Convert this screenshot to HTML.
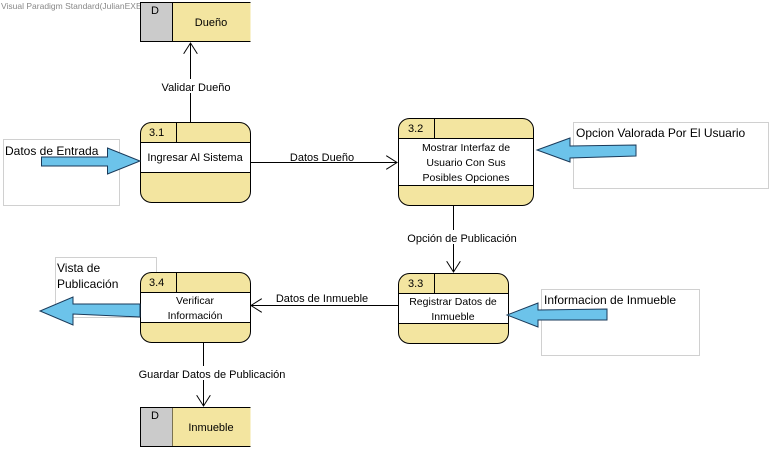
<!DOCTYPE html>
<html><head><meta charset="utf-8"><style>
html,body{margin:0;padding:0;background:#fff;}
svg{display:block;font-family:"Liberation Sans",Arial,sans-serif;}
</style></head><body>
<svg width="772" height="451" viewBox="0 0 772 451" xmlns="http://www.w3.org/2000/svg">
<defs>
<marker id="a" markerWidth="12" markerHeight="14" refX="11" refY="7" orient="auto" markerUnits="userSpaceOnUse">
<path d="M0,0 L11,7 L0,14" fill="none" stroke="#000" stroke-width="1"/>
</marker>
</defs>
<text x="1" y="9" font-size="8.5" fill="#888">Visual Paradigm Standard(JulianEXE(Sena))</text>

<!-- Dueño store -->
<rect x="140.5" y="2.5" width="32" height="39" fill="#cbcbcb" stroke="#000"/>
<rect x="172.5" y="2.5" width="78" height="39" fill="#f3e5a0" stroke="none"/>
<path d="M172.5,2.5 H250.5 M172.5,41.5 H250.5 M172.5,2.5 V41.5" stroke="#000" fill="none"/>
<text x="151" y="14" font-size="11">D</text>
<text x="211" y="26" font-size="11" text-anchor="middle">Dueño</text>

<!-- notes -->
<rect x="3.5" y="139.5" width="116" height="66" fill="#fff" stroke="#d0d0d0"/>
<text x="5" y="155" font-size="12">Datos de Entrada</text>
<rect x="573.5" y="122.5" width="195" height="66" fill="#fff" stroke="#d0d0d0"/>
<text x="576" y="137" font-size="12">Opcion Valorada Por El Usuario</text>
<rect x="541.5" y="289.5" width="158" height="66" fill="#fff" stroke="#d0d0d0"/>
<text x="544" y="304" font-size="12">Informacion de Inmueble</text>
<rect x="55.5" y="257.5" width="101" height="60" fill="#fff" stroke="#d0d0d0"/>
<text x="57" y="272" font-size="12">Vista de</text>
<text x="57" y="288" font-size="12">Publicación</text>

<!-- connectors -->
<line x1="190.5" y1="122" x2="190.5" y2="43" stroke="#000" marker-end="url(#a)"/>
<rect x="158" y="79" width="76" height="14" fill="#fff"/>
<text x="196" y="91" font-size="11" text-anchor="middle">Validar Dueño</text>
<line x1="250" y1="162.5" x2="397" y2="162.5" stroke="#000" marker-end="url(#a)"/>
<text x="322" y="161" font-size="11" text-anchor="middle">Datos Dueño</text>
<line x1="453.5" y1="205" x2="453.5" y2="272" stroke="#000" marker-end="url(#a)"/>
<rect x="404" y="230" width="116" height="14" fill="#fff"/>
<text x="462" y="242" font-size="11" text-anchor="middle">Opción de Publicación</text>
<line x1="398" y1="305.5" x2="251" y2="305.5" stroke="#000" marker-end="url(#a)"/>
<text x="322" y="302" font-size="11" text-anchor="middle">Datos de Inmueble</text>
<line x1="203.5" y1="342" x2="203.5" y2="406" stroke="#000" marker-end="url(#a)"/>
<rect x="136" y="366" width="152" height="14" fill="#fff"/>
<text x="212" y="378" font-size="11" text-anchor="middle">Guardar Datos de Publicación</text>

<!-- process template -->
<g stroke="#000" stroke-width="1">
<!-- 3.1 -->
<rect x="140.5" y="122.5" width="110" height="80" rx="11" fill="#f3e5a0"/>
<rect x="140.5" y="142.5" width="110" height="30" fill="#fff"/>
<line x1="176.5" y1="122.5" x2="176.5" y2="142.5"/>
<!-- 3.2 -->
<rect x="398.5" y="118.5" width="135" height="87" rx="11" fill="#f3e5a0"/>
<rect x="398.5" y="138.5" width="135" height="47" fill="#fff"/>
<line x1="434.5" y1="118.5" x2="434.5" y2="138.5"/>
<!-- 3.3 -->
<rect x="398.5" y="273.5" width="110" height="70" rx="11" fill="#f3e5a0"/>
<rect x="398.5" y="293.5" width="110" height="30" fill="#fff"/>
<line x1="434.5" y1="273.5" x2="434.5" y2="293.5"/>
<!-- 3.4 -->
<rect x="140.5" y="272.5" width="110" height="70" rx="11" fill="#f3e5a0"/>
<rect x="140.5" y="292.5" width="110" height="30" fill="#fff"/>
<line x1="176.5" y1="272.5" x2="176.5" y2="292.5"/>
</g>
<g font-size="11">
<text x="149" y="136">3.1</text>
<text x="195" y="161" text-anchor="middle">Ingresar Al Sistema</text>
<text x="408" y="132">3.2</text>
<text x="466" y="151" text-anchor="middle" font-size="10.5">Mostrar Interfaz de</text>
<text x="466" y="166" text-anchor="middle" font-size="10.5">Usuario Con Sus</text>
<text x="466" y="181" text-anchor="middle" font-size="10.5">Posibles Opciones</text>
<text x="408" y="287">3.3</text>
<text x="453" y="305" text-anchor="middle" font-size="10.5">Registrar Datos de</text>
<text x="453" y="320" text-anchor="middle" font-size="10.5">Inmueble</text>
<text x="149" y="286">3.4</text>
<text x="195" y="304" text-anchor="middle" font-size="10.5">Verificar</text>
<text x="195" y="319" text-anchor="middle" font-size="10.5">Información</text>
</g>

<!-- Inmueble store -->
<rect x="140.5" y="407.5" width="32" height="39" fill="#cbcbcb" stroke="#000"/>
<rect x="172.5" y="407.5" width="78" height="39" fill="#f3e5a0"/>
<path d="M172.5,407.5 H250.5 M172.5,446.5 H250.5" stroke="#000" fill="none"/>
<text x="151" y="419" font-size="11">D</text>
<text x="211" y="431" font-size="11" text-anchor="middle">Inmueble</text>

<!-- blue arrows -->
<g fill="#6cc3ea" stroke="#1a3a5a" stroke-width="1">
<path d="M41.5,157 H107.5 V148 L140,161 L107.5,174 V166 H41.5 Z"/>
<path d="M636,145 L636,156 L570,158 L570,162 L537,150 L570,138 L570,146 Z"/>
<path d="M607,309 L607,320 L538,320 L538,327 L507,315 L538,303 L538,310 Z"/>
<path d="M140,304 L140,317 L73,314 L73,325 L40,311 L73,297 L73,304 Z"/>
</g>
</svg>
</body></html>
